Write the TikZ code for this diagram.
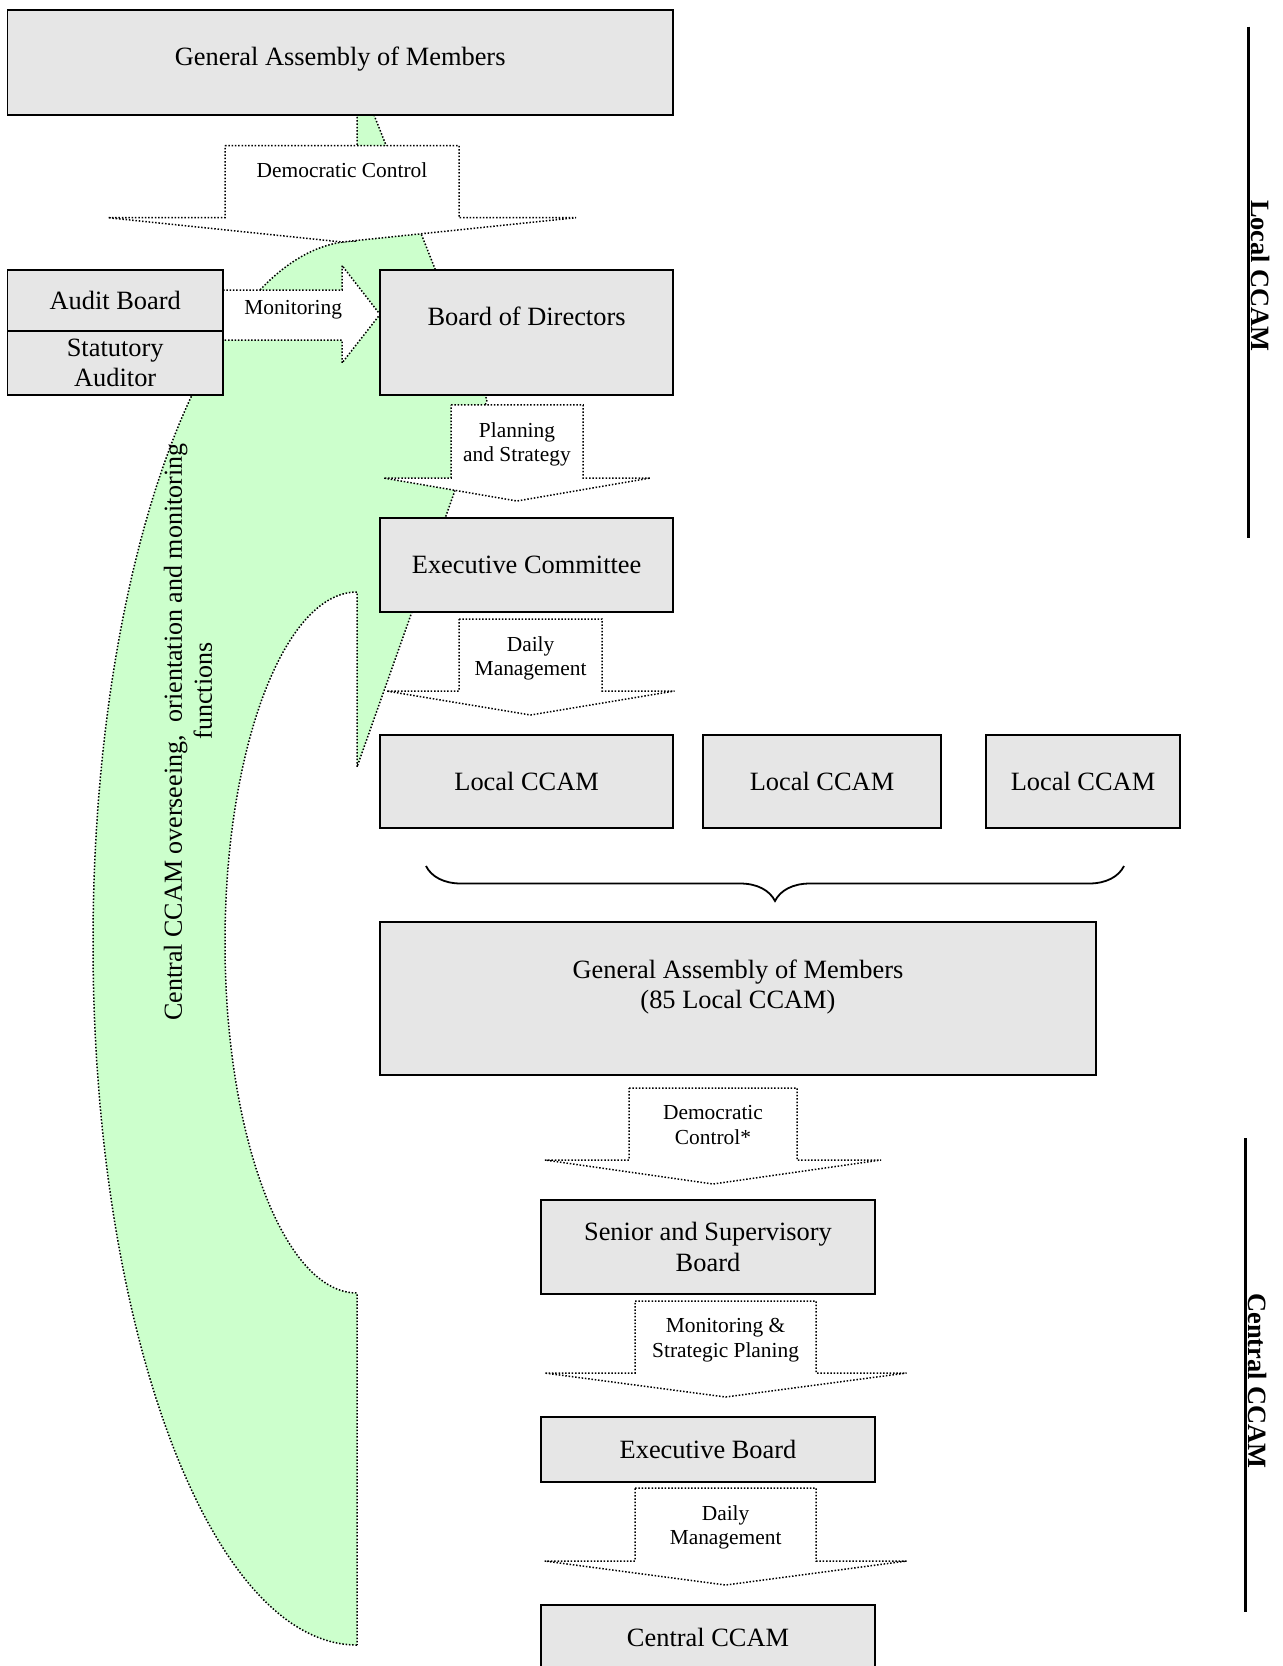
\documentclass[tikz,border=0pt]{standalone}
\usepackage{fontspec}
\setmainfont{Liberation Serif}
\usetikzlibrary{decorations.pathreplacing}

\definecolor{boxgray}{HTML}{E6E6E6}
\definecolor{bandgreen}{HTML}{CCFFCC}

% name, x, top, shoulder, tip, half body, half head, text
\newcommand{\blockdown}[8]{%
  \draw[flowarrow] ({#2-#6},#3) -- ({#2+#6},#3) -- ({#2+#6},#4) -- ({#2+#7},#4)
    -- (#2,#5) -- ({#2-#7},#4) -- ({#2-#6},#4) -- cycle;
  \node[flowtext, anchor=north] (#1) at (#2,{#3+8.5}) {#8};
}

\begin{document}
\begin{tikzpicture}[x=1pt, y=-1pt,
        box/.style = {draw, line width=0.9pt, fill=boxgray, inner sep=0pt,
            outer sep=0pt, align=center, font=\fontsize{13.2}{15.3}\selectfont},
        boxtext/.style = {inner sep=0pt, align=center,
            font=\fontsize{13.2}{15.3}\selectfont},
        flowarrow/.style = {draw, fill=white, line width=0.75pt,
            dash pattern=on 0.75pt off 0.9pt},
        flowtext/.style = {inner sep=0pt, align=center,
            font=\fontsize{10.7}{12.3}\selectfont},
        band/.style = {draw, fill=bandgreen, line width=0.75pt,
            dash pattern=on 0.75pt off 0.9pt},
        sidebar/.style = {line width=1.5pt},
        sidelabel/.style = {rotate=-90, anchor=south, inner sep=0pt,
            font=\bfseries\fontsize{13.2}{15}\selectfont}]

    \useasboundingbox (0,0) rectangle (641,833);

    % the big green arrow behind the chart
    \path[band] (178.5,822.5)
        arc[start angle=270, end angle=90, x radius=132pt, y radius=351pt]
        -- (178.5,36) -- (243.5,200) -- (178.5,383.5) -- (178.5,296)
        arc[start angle=90, end angle=270, x radius=66pt, y radius=175.25pt]
        -- cycle;
    \node[rotate=90, inner sep=0pt, align=center,
        font=\fontsize{13}{15}\selectfont] (oversee) at (94,366)
        {Central CCAM overseeing,\ \ orientation and monitoring\\\hspace*{41pt}functions};

    % block arrows
    \blockdown{democ}{171}{72.75}{108.85}{121}{58.5}{117}{Democratic Control}
    \blockdown{plan}{258.5}{202.4}{239}{250.5}{33}{66.7}{Planning\\and Strategy}
    \blockdown{daily}{265.3}{309.5}{345.5}{357.5}{35.8}{72}{Daily\\Management}
    \blockdown{democstar}{356.5}{544}{580}{592}{42}{84}{Democratic\\Control*}
    \blockdown{strat}{362.8}{650.5}{686.5}{698.5}{45.3}{90.5}{Monitoring \&\\Strategic Planing}
    \blockdown{dailyc}{362.8}{744}{780.5}{792.5}{45.3}{90.5}{Daily\\Management}
    \draw[flowarrow] (111.5,145) -- (171,145) -- (171,132.75) -- (190,157.2)
        -- (171,181.5) -- (171,170) -- (111.5,170) -- cycle;
    \node[flowtext] (monitor) at (146.6,155) {Monitoring};

    % local CCAM
    \node[box, minimum width=332.8pt, minimum height=52.6pt] (ga) at (170.1,31.1) {};
    \node[boxtext] (gatext) at (170.1,29.6) {General Assembly of Members};
    \node[box, minimum width=107.8pt, minimum height=30.5pt] (audit) at (57.6,150.3) {Audit Board};
    \node[box, minimum width=107.8pt, minimum height=32pt] (auditor) at (57.6,181.5) {Statutory\\Auditor};
    \node[box, minimum width=146.5pt, minimum height=62.5pt] (bod) at (263.3,166.3) {};
    \node[boxtext] (bodtext) at (263.3,158.3) {Board of Directors};
    \node[box, minimum width=146.5pt, minimum height=47pt] (exec) at (263.3,282.5) {Executive Committee};
    \node[box, minimum width=146.5pt, minimum height=46.5pt] (local1) at (263.3,390.8) {Local CCAM};
    \node[box, minimum width=119pt, minimum height=46.5pt] (local2) at (411,390.8) {Local CCAM};
    \node[box, minimum width=97pt, minimum height=46.5pt] (local3) at (541.5,390.8) {Local CCAM};

    \draw[decorate, decoration={brace, amplitude=17.5pt}, line width=0.9pt]
        (562,433) -- (213,433);

    % central CCAM
    \node[box, minimum width=358pt, minimum height=76.5pt] (ga2) at (369,499.3) {};
    \node[boxtext] (ga2text) at (369,493.5) {General Assembly of Members\\(85 Local CCAM)};
    \node[box, minimum width=167pt, minimum height=47pt] (senior) at (354,623.5) {Senior and Supervisory\\Board};
    \node[box, minimum width=167pt, minimum height=32.5pt] (execboard) at (354,724.8) {Executive Board};
    \node[box, minimum width=167pt, minimum height=32.5pt] (central) at (354,818.8) {Central CCAM};

    % side marks
    \draw[sidebar] (624,13.3) -- (624,269);
    \node[sidelabel] (localside) at (625.5,138) {Local CCAM};
    \draw[sidebar] (622.5,569) -- (622.5,806);
    \node[sidelabel] (centralside) at (624,690.5) {Central CCAM};
\end{tikzpicture}
\end{document}
